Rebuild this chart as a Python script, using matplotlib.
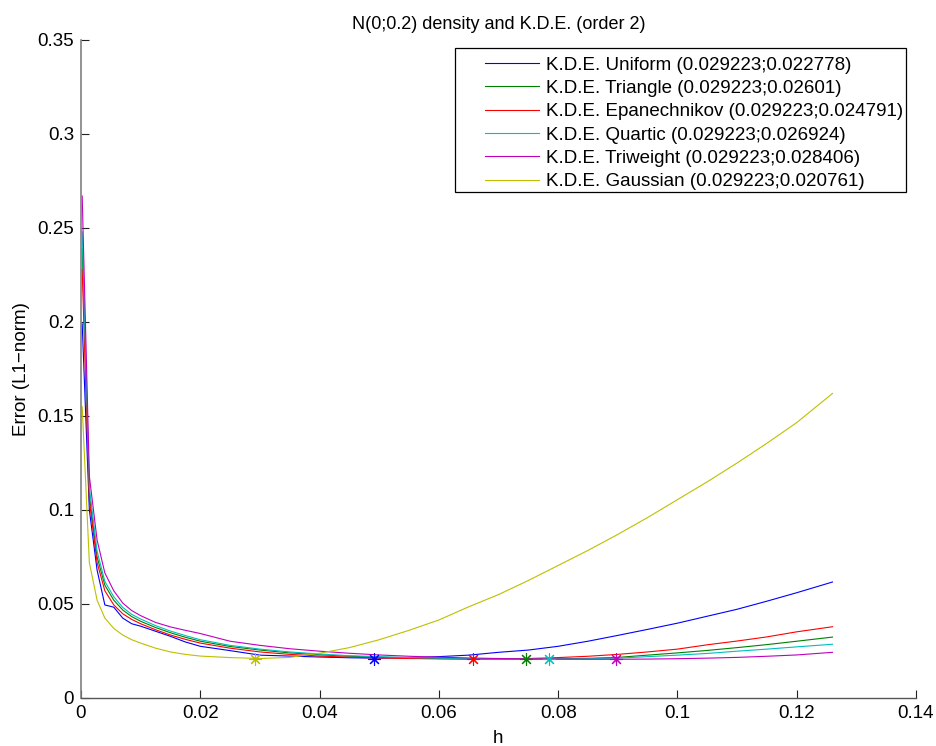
import numpy as np
import matplotlib
matplotlib.use("Agg")
import matplotlib.pyplot as plt
from matplotlib.patches import Rectangle

plt.rcParams.update(
    {
        "font.family": ["Liberation Sans", "DejaVu Sans"],
        "font.size": 13.5,
    }
)

# bandwidth grid
h = [0.0002, 0.0014, 0.0027, 0.004, 0.0055, 0.007, 0.0085, 0.01, 0.0125,
     0.015, 0.0175, 0.02, 0.025, 0.03, 0.035, 0.04, 0.045, 0.05, 0.055,
     0.06, 0.065, 0.07, 0.075, 0.08, 0.085, 0.09, 0.095, 0.1, 0.105, 0.11,
     0.115, 0.12, 0.126]

err_uniform = [0.199, 0.100, 0.068, 0.0495, 0.0483, 0.0425, 0.0395, 0.0382,
               0.0355, 0.0328, 0.0298, 0.0275, 0.0252, 0.0228, 0.0223, 0.0218,
               0.0214, 0.0212, 0.0215, 0.0220, 0.0228, 0.0243, 0.0255, 0.0275,
               0.0302, 0.0333, 0.0365, 0.0398, 0.0435, 0.0472, 0.0515, 0.0560,
               0.0617]
err_triangle = [0.239, 0.108, 0.075, 0.060, 0.052, 0.0468, 0.0433, 0.0408,
                0.0375, 0.0347, 0.0323, 0.0302, 0.0274, 0.0255, 0.0240, 0.0230,
                0.0222, 0.0217, 0.0213, 0.0210, 0.0208, 0.0207, 0.0206, 0.0208,
                0.0211, 0.0216, 0.0228, 0.0240, 0.0253, 0.0268, 0.0284, 0.0302,
                0.0324]
err_epan = [0.228, 0.105, 0.072, 0.057, 0.0495, 0.0448, 0.0418, 0.0395,
            0.0363, 0.0335, 0.0312, 0.0292, 0.0265, 0.0245, 0.0232, 0.0223,
            0.0217, 0.0213, 0.0210, 0.0208, 0.0207, 0.0208, 0.0210, 0.0215,
            0.0222, 0.0232, 0.0245, 0.0260, 0.0283, 0.0303, 0.0325, 0.0352,
            0.0379]
err_quartic = [0.248, 0.112, 0.078, 0.062, 0.0538, 0.0482, 0.0445, 0.0420,
               0.0385, 0.0356, 0.0332, 0.0310, 0.0280, 0.0260, 0.0245, 0.0234,
               0.0225, 0.0220, 0.0215, 0.0212, 0.0210, 0.0208, 0.0207, 0.0207,
               0.0209, 0.0212, 0.0220, 0.0228, 0.0237, 0.0249, 0.0260, 0.0272,
               0.0286]
err_triweight = [0.267, 0.118, 0.084, 0.0665, 0.057, 0.0505, 0.0465, 0.0438,
                 0.0402, 0.0378, 0.0360, 0.0343, 0.0302, 0.0280, 0.0262, 0.0249,
                 0.0238, 0.0229, 0.0222, 0.0217, 0.0213, 0.0210, 0.0208, 0.0207,
                 0.0206, 0.0206, 0.0207, 0.0209, 0.0212, 0.0216, 0.0222, 0.0229,
                 0.0243]
err_gauss = [0.155, 0.072, 0.052, 0.0425, 0.037, 0.0335, 0.031, 0.0292,
             0.0265, 0.0245, 0.0232, 0.0223, 0.0215, 0.0210, 0.0216, 0.0238,
             0.0268, 0.0310, 0.0360, 0.0415, 0.0485, 0.0550, 0.0625, 0.0705,
             0.0785, 0.0870, 0.0960, 0.1055, 0.1150, 0.1250, 0.1355, 0.1465,
             0.1620]

# location of each minimum (star markers)
min_h = [0.0492, 0.0746, 0.0657, 0.0785, 0.0897, 0.0292]
min_err = [0.0207, 0.0206, 0.0207, 0.0207, 0.0206, 0.0209]

labels = [
    "K.D.E. Uniform (0.029223;0.022778)",
    "K.D.E. Triangle (0.029223;0.02601)",
    "K.D.E. Epanechnikov (0.029223;0.024791)",
    "K.D.E. Quartic (0.029223;0.026924)",
    "K.D.E. Triweight (0.029223;0.028406)",
    "K.D.E. Gaussian (0.029223;0.020761)",
]
colors = ["#0000ff", "#008000", "#ff0000", "#00bfbf", "#bf00bf", "#bfbf00"]

xticks = [0, 0.02, 0.04, 0.06, 0.08, 0.1, 0.12, 0.14]
xticklabels = ["0", "0.02", "0.04", "0.06", "0.08", "0.1", "0.12", "0.14"]
yticks = [0, 0.05, 0.1, 0.15, 0.2, 0.25, 0.3, 0.35]
yticklabels = ["0", "0.05", "0.1", "0.15", "0.2", "0.25", "0.3", "0.35"]

fig = plt.figure(figsize=(9.37, 7.46), dpi=100)
ax = fig.add_axes([81 / 937, 48 / 746, 835 / 937, 658 / 746])

series = [err_uniform, err_triangle, err_epan, err_quartic, err_triweight, err_gauss]
for err, lab, col in zip(series, labels, colors):
    ax.plot(h, err, "-", color=col, lw=0.8, label=lab)
for mh, me, col in zip(min_h, min_err, colors):
    ax.plot(mh, me, linestyle="none", color=col, markersize=9,
            markeredgewidth=0.8, marker=(8, 2, 0))

ax.set_xlim(0, 0.14)
ax.set_ylim(0, 0.35)
ax.set_xticks(xticks)
ax.set_xticklabels(xticklabels)
ax.set_yticks(yticks)
ax.set_yticklabels(yticklabels)
ax.tick_params(direction="in", length=6, width=0.8, color="#222222")
ax.tick_params(axis="x", pad=5)
ax.tick_params(axis="y", pad=5)
ax.spines["top"].set_visible(False)
ax.spines["right"].set_visible(False)
ax.spines["left"].set_color("#808080")
ax.spines["left"].set_linewidth(1.2)
ax.spines["bottom"].set_color("#555555")
ax.spines["bottom"].set_linewidth(1.0)

ax.set_title("N(0;0.2) density and K.D.E. (order 2)", fontsize=13, pad=8)
ax.set_xlabel("h", labelpad=6)
ax.set_ylabel("Error (L1\u2212norm)", labelpad=5)

# MATLAB-style legend box: wider left margin than right
box = Rectangle((0.4479, 0.769), 0.988 - 0.4479, 0.9878 - 0.769,
                transform=ax.transAxes, facecolor="white", edgecolor="black",
                linewidth=0.9, zorder=4.9)
ax.add_patch(box)
leg = ax.legend(
    loc="upper right",
    bbox_to_anchor=(0.9844, 0.975),
    frameon=False,
    handlelength=2.88,
    handletextpad=0.37,
    labelspacing=0.33,
    borderpad=0,
    borderaxespad=0,
)
leg.set_zorder(5)

fig.savefig("out.png", dpi=100)
